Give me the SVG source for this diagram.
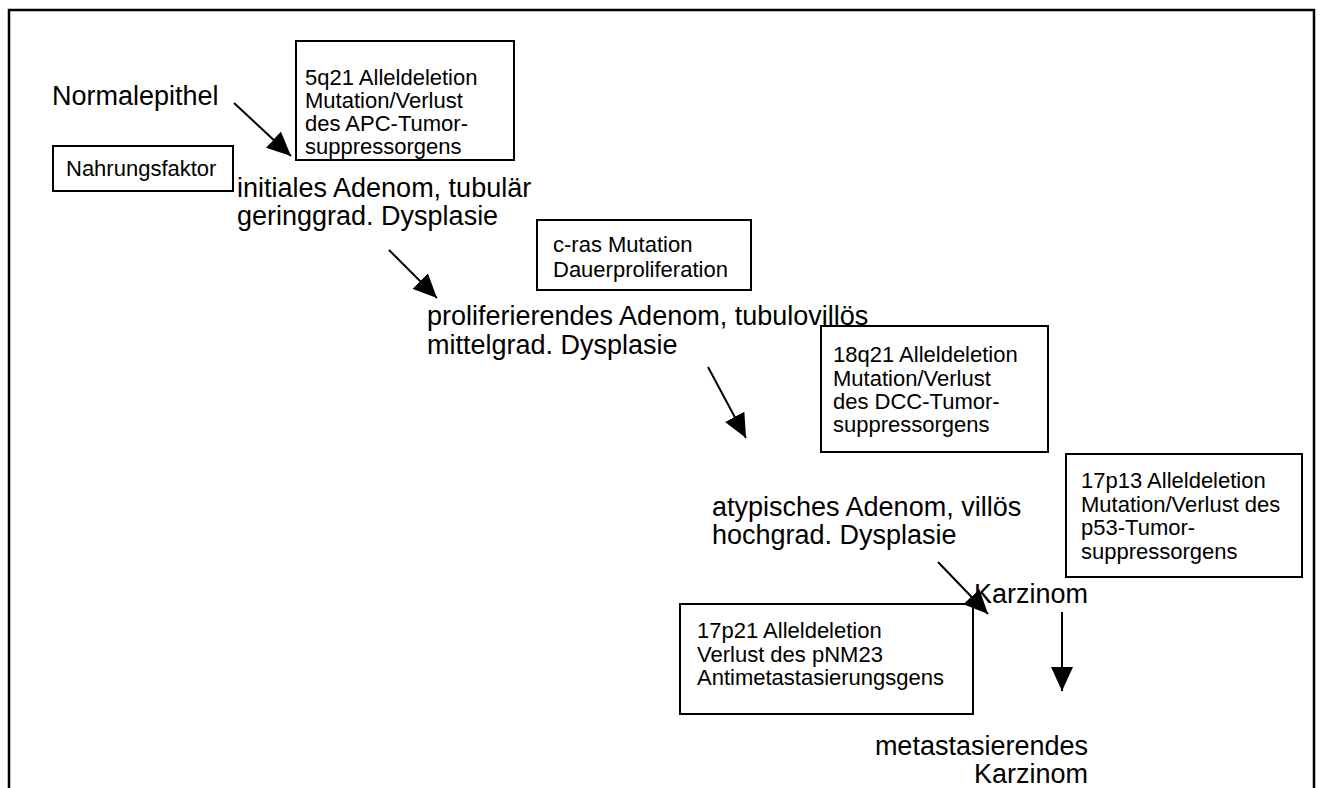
<svg xmlns="http://www.w3.org/2000/svg" width="1320" height="788" viewBox="0 0 1320 788">
<style>
.big{font-family:"Liberation Sans",Arial,sans-serif;font-size:27px;fill:#000}
.sm{font-family:"Liberation Sans",Arial,sans-serif;font-size:22px;fill:#000}
.box{fill:#fff;stroke:#000;stroke-width:2}
.con{stroke:#000;stroke-width:2;fill:none;marker-end:url(#ah)}
</style>
<defs>
<marker id="ah" markerUnits="userSpaceOnUse" markerWidth="26" markerHeight="24" refX="24" refY="11" orient="auto">
<path d="M0,0 L24,11 L0,22 Z" fill="#000"/>
</marker>
</defs>
<rect x="0" y="0" width="1320" height="788" fill="#fff"/>
<rect id="frame" x="9" y="10" width="1305" height="800" fill="none" stroke="#000" stroke-width="2.5"/>
<g id="n-normal"><text class="big" x="52" y="105">Normalepithel</text></g>
<g id="b-5q21"><rect class="box" x="296" y="41" width="218" height="119"/>
<text class="sm" x="305" y="85">5q21 Alleldeletion</text>
<text class="sm" x="305" y="108">Mutation/Verlust</text>
<text class="sm" x="305" y="131">des APC-Tumor-</text>
<text class="sm" x="305" y="154">suppressorgens</text></g>
<g id="b-nahrung"><rect class="box" x="53" y="146" width="180" height="45"/>
<text class="sm" x="66" y="176">Nahrungsfaktor</text></g>
<g id="n-initial"><text class="big" x="237" y="197">initiales Adenom, tubulär</text>
<text class="big" x="237" y="225">geringgrad. Dysplasie</text></g>
<g id="b-cras"><rect class="box" x="537" y="220" width="214" height="70"/>
<text class="sm" x="553" y="252">c-ras Mutation</text>
<text class="sm" x="553" y="277">Dauerproliferation</text></g>
<g id="n-prolif"><text class="big" x="427" y="325">proliferierendes Adenom, tubulovillös</text>
<text class="big" x="427" y="354">mittelgrad. Dysplasie</text></g>
<g id="b-18q21"><rect class="box" x="821" y="326" width="227" height="126"/>
<text class="sm" x="833" y="362">18q21 Alleldeletion</text>
<text class="sm" x="833" y="386">Mutation/Verlust</text>
<text class="sm" x="833" y="409">des DCC-Tumor-</text>
<text class="sm" x="833" y="432">suppressorgens</text></g>
<g id="n-atyp"><text class="big" x="712" y="516">atypisches Adenom, villös</text>
<text class="big" x="712" y="544">hochgrad. Dysplasie</text></g>
<g id="b-17p13"><rect class="box" x="1066" y="454" width="236" height="123"/>
<text class="sm" x="1081" y="488">17p13 Alleldeletion</text>
<text class="sm" x="1081" y="512">Mutation/Verlust des</text>
<text class="sm" x="1081" y="535">p53-Tumor-</text>
<text class="sm" x="1081" y="559">suppressorgens</text></g>
<g id="n-karz"><text class="big" x="1088" y="603" text-anchor="end">Karzinom</text></g>
<g id="b-17p21"><rect class="box" x="680" y="604" width="293" height="110"/>
<text class="sm" x="697" y="638">17p21 Alleldeletion</text>
<text class="sm" x="697" y="662">Verlust des pNM23</text>
<text class="sm" x="697" y="685">Antimetastasierungsgens</text></g>
<g id="n-meta"><text class="big" x="1088" y="755" text-anchor="end">metastasierendes</text>
<text class="big" x="1088" y="783" text-anchor="end">Karzinom</text></g>
<g id="connectors">
<line class="con" x1="234" y1="103" x2="291" y2="156"/>
<line class="con" x1="389" y1="250" x2="437" y2="298"/>
<line class="con" x1="708" y1="367" x2="746" y2="438"/>
<line class="con" x1="938" y1="562" x2="988" y2="614"/>
<line class="con" x1="1062" y1="612" x2="1062" y2="691"/>
</g>
</svg>
